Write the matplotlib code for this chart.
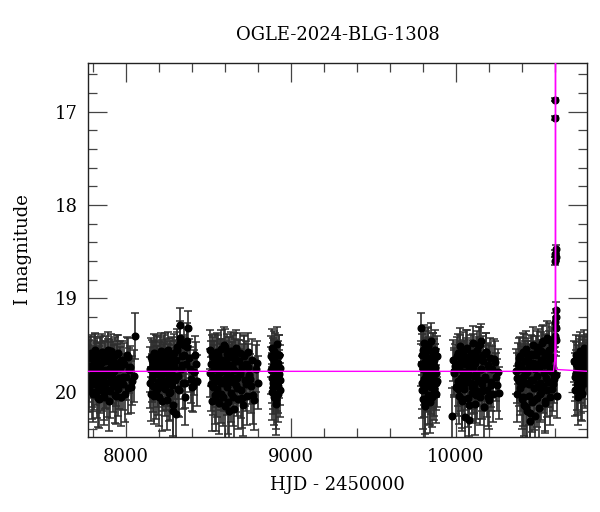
import numpy as np
import matplotlib
matplotlib.use('Agg')
import matplotlib.pyplot as plt
from matplotlib.ticker import MultipleLocator

# Temporada 1
t1 = [7776, 7779, 7783, 7786, 7790, 7794, 7797, 7801, 7805, 7808, 7812, 7816, 7820, 7823, 7827,
      7831, 7835, 7838, 7842, 7846, 7850, 7853, 7857, 7861, 7865, 7869, 7872, 7876, 7880, 7884,
      7888, 7892, 7895, 7899, 7903, 7907, 7911, 7915, 7919, 7923, 7927, 7931, 7935, 7940, 7944,
      7949, 7954, 7959, 7964, 7970, 7976, 7983, 7990, 7998, 8006, 8015, 8025, 8036, 8046, 8052,
      7777, 7785, 7792, 7800, 7806, 7814, 7822, 7829, 7836, 7844, 7851, 7859, 7867, 7874, 7882,
      7890, 7897, 7905, 7913, 7921, 7929, 7938, 7947, 7957, 7967, 7980, 7994, 8010, 8020, 8030]
m1 = [19.72, 19.95, 19.64, 19.83, 19.58, 19.90, 19.76, 20.02, 19.67, 19.81,
      19.55, 19.88, 19.70, 19.99, 19.62, 19.79, 20.08, 19.73, 19.60, 19.86,
      19.69, 19.93, 19.57, 19.84, 20.05, 19.66, 19.77, 19.91, 19.59, 19.82,
      19.98, 19.63, 19.75, 20.10, 19.68, 19.87, 19.56, 19.80, 19.94, 19.65,
      19.78, 20.03, 19.61, 19.89, 19.71, 19.97, 19.58, 19.85, 19.74, 20.06,
      19.66, 19.92, 19.70, 19.84, 19.60, 19.96, 19.73, 19.88, 19.83, 19.40,
      19.86, 19.61, 20.00, 19.74, 19.92, 19.57, 19.83, 20.07, 19.69, 19.95,
      19.60, 19.79, 20.01, 19.67, 19.90, 19.55, 19.81, 19.99, 19.64, 19.86,
      19.73, 20.04, 19.59, 19.91, 19.68, 19.84, 20.02, 19.63, 19.77, 19.95]
e1 = [0.22, 0.27, 0.20, 0.24, 0.19, 0.26, 0.23, 0.30, 0.21, 0.24,
      0.18, 0.26, 0.22, 0.29, 0.20, 0.23, 0.31, 0.22, 0.19, 0.25,
      0.21, 0.27, 0.19, 0.25, 0.30, 0.21, 0.23, 0.27, 0.19, 0.24,
      0.29, 0.20, 0.22, 0.32, 0.21, 0.26, 0.18, 0.24, 0.28, 0.20,
      0.23, 0.30, 0.20, 0.26, 0.22, 0.29, 0.19, 0.25, 0.22, 0.31,
      0.21, 0.27, 0.22, 0.25, 0.19, 0.28, 0.22, 0.26, 0.28, 0.25,
      0.25, 0.20, 0.29, 0.23, 0.27, 0.19, 0.25, 0.31, 0.22, 0.28,
      0.20, 0.24, 0.29, 0.21, 0.27, 0.19, 0.25, 0.29, 0.21, 0.26,
      0.23, 0.30, 0.20, 0.27, 0.22, 0.25, 0.30, 0.21, 0.24, 0.28]

# Temporada 2
t2 = [8146, 8150, 8154, 8158, 8162, 8166, 8170, 8174, 8178, 8182, 8186, 8190, 8194, 8198, 8202,
      8206, 8210, 8214, 8218, 8222, 8226, 8230, 8234, 8238, 8242, 8246, 8250, 8254, 8258, 8262,
      8266, 8270, 8274, 8278, 8282, 8286, 8290, 8294, 8298, 8302, 8306, 8310, 8315, 8320, 8325,
      8330, 8335, 8340, 8346, 8352, 8358, 8364, 8370, 8377, 8384, 8392, 8400, 8410, 8420, 8432,
      8148, 8156, 8164, 8172, 8180, 8188, 8196, 8204, 8212, 8220, 8228, 8236, 8244, 8252, 8260,
      8268, 8276, 8284, 8292, 8300, 8308, 8318, 8328, 8338, 8349, 8361, 8373, 8388, 8405, 8425]
m2 = [19.76, 20.02, 19.63, 19.85, 19.70, 19.94, 19.58, 19.81, 19.67, 19.99,
      19.74, 19.60, 19.89, 19.69, 20.06, 19.78, 19.56, 19.86, 19.65, 19.92,
      19.72, 19.59, 19.97, 19.80, 19.64, 19.88, 20.09, 19.71, 19.55, 19.84,
      19.68, 20.00, 19.77, 19.61, 19.93, 20.20, 19.73, 19.58, 19.87, 20.24,
      19.66, 19.52, 19.83, 19.98, 19.48, 19.28, 19.75, 19.62, 19.91, 19.50,
      20.05, 19.70, 19.45, 19.32, 19.64, 19.86, 19.95, 19.79, 19.60, 19.88,
      19.90, 19.66, 19.81, 20.04, 19.59, 19.75, 19.96, 19.62, 19.85, 20.10,
      19.70, 19.57, 19.92, 19.78, 20.01, 19.64, 19.88, 20.14, 19.68, 19.83,
      19.55, 19.97, 19.42, 19.71, 19.60, 19.90, 19.52, 19.76, 19.94, 19.70]
e2 = [0.24, 0.29, 0.21, 0.26, 0.23, 0.28, 0.20, 0.25, 0.22, 0.30,
      0.23, 0.20, 0.27, 0.22, 0.31, 0.24, 0.19, 0.26, 0.21, 0.28,
      0.23, 0.20, 0.29, 0.25, 0.21, 0.27, 0.32, 0.22, 0.19, 0.26,
      0.22, 0.30, 0.24, 0.20, 0.28, 0.30, 0.23, 0.20, 0.26, 0.28,
      0.22, 0.19, 0.25, 0.29, 0.19, 0.18, 0.24, 0.21, 0.27, 0.20,
      0.30, 0.23, 0.19, 0.19, 0.21, 0.26, 0.26, 0.24, 0.20, 0.27,
      0.27, 0.22, 0.25, 0.30, 0.20, 0.24, 0.29, 0.21, 0.26, 0.32,
      0.23, 0.20, 0.27, 0.24, 0.30, 0.22, 0.27, 0.33, 0.22, 0.25,
      0.19, 0.29, 0.18, 0.23, 0.21, 0.27, 0.19, 0.24, 0.28, 0.23]

# Temporada 3
t3 = [8510, 8514, 8518, 8522, 8526, 8530, 8534, 8538, 8542, 8546, 8550, 8554, 8558, 8562, 8566,
      8570, 8574, 8578, 8582, 8586, 8590, 8594, 8598, 8602, 8606, 8610, 8614, 8618, 8622, 8626,
      8630, 8634, 8638, 8642, 8646, 8650, 8654, 8658, 8662, 8666, 8670, 8674, 8679, 8684, 8689,
      8694, 8699, 8704, 8710, 8716, 8722, 8728, 8735, 8742, 8749, 8757, 8765, 8774, 8786, 8798,
      8512, 8520, 8528, 8536, 8544, 8552, 8560, 8568, 8576, 8584, 8592, 8600, 8608, 8616, 8624,
      8632, 8640, 8648, 8656, 8664, 8672, 8682, 8692, 8702, 8713, 8725, 8738, 8753, 8770, 8792]
m3 = [19.55, 19.92, 19.70, 20.10, 19.63, 19.84, 19.75, 20.03, 19.58, 19.88,
      19.68, 19.97, 19.61, 19.80, 20.12, 19.72, 19.54, 19.90, 19.66, 20.06,
      19.78, 19.50, 19.86, 20.15, 19.69, 19.59, 19.95, 19.74, 20.20, 19.63,
      19.83, 19.56, 20.01, 19.71, 19.89, 19.60, 20.18, 19.77, 19.65, 19.93,
      19.53, 19.85, 20.08, 19.67, 19.79, 19.58, 19.98, 19.73, 20.14, 19.62,
      19.87, 19.70, 20.04, 19.57, 19.82, 19.94, 19.66, 20.09, 19.75, 19.90,
      19.80, 19.60, 19.95, 19.70, 20.09, 19.57, 19.84, 19.66, 20.02, 19.74,
      19.91, 19.52, 19.79, 20.11, 19.63, 19.88, 19.71, 20.05, 19.58, 19.85,
      19.96, 19.67, 19.81, 20.07, 19.61, 19.92, 19.73, 19.86, 20.03, 19.69]
e3 = [0.21, 0.29, 0.24, 0.32, 0.22, 0.27, 0.25, 0.31, 0.20, 0.28,
      0.23, 0.30, 0.22, 0.26, 0.33, 0.24, 0.20, 0.29, 0.23, 0.31,
      0.25, 0.19, 0.27, 0.34, 0.23, 0.21, 0.30, 0.24, 0.35, 0.22,
      0.26, 0.20, 0.31, 0.24, 0.28, 0.21, 0.34, 0.25, 0.22, 0.29,
      0.19, 0.27, 0.32, 0.23, 0.25, 0.21, 0.30, 0.24, 0.33, 0.22,
      0.28, 0.24, 0.31, 0.20, 0.26, 0.29, 0.23, 0.32, 0.25, 0.28,
      0.26, 0.21, 0.30, 0.24, 0.33, 0.20, 0.27, 0.23, 0.31, 0.25,
      0.29, 0.19, 0.26, 0.34, 0.22, 0.28, 0.24, 0.32, 0.21, 0.27,
      0.30, 0.23, 0.26, 0.32, 0.22, 0.29, 0.24, 0.27, 0.31, 0.23]

# Temporada 4
t4 = [8880, 8883, 8886, 8889, 8892, 8895, 8898, 8901, 8904, 8907,
      8910, 8913, 8916, 8919, 8922, 8925, 8928, 8931, 8934, 8936,
      8881, 8885, 8890, 8894, 8900, 8906, 8912, 8918, 8924, 8930]
m4 = [19.62, 19.85, 19.53, 19.95, 19.72, 20.05, 19.66, 19.88, 19.58, 20.13,
      19.76, 19.49, 19.92, 19.69, 20.02, 19.81, 19.60, 19.98, 19.74, 19.87,
      19.77, 20.00, 19.64, 19.90, 19.56, 19.82, 20.08, 19.70, 19.94, 19.61]
e4 = [0.22, 0.27, 0.20, 0.29, 0.24, 0.31, 0.22, 0.27, 0.21, 0.33,
      0.25, 0.19, 0.28, 0.23, 0.30, 0.26, 0.21, 0.29, 0.24, 0.27,
      0.25, 0.30, 0.22, 0.28, 0.21, 0.26, 0.32, 0.23, 0.29, 0.22]

# Temporada 5
t5 = [9790, 9793, 9796, 9799, 9802, 9805, 9808, 9811, 9814, 9817, 9820, 9823, 9826, 9829, 9832,
      9835, 9838, 9841, 9844, 9847, 9850, 9853, 9856, 9859, 9862, 9865, 9868, 9871, 9874, 9877,
      9880, 9883, 9886,
      9791, 9795, 9801, 9806, 9812, 9818, 9824, 9830, 9836, 9842, 9848, 9854, 9860, 9866, 9872,
      9878]
m5 = [19.32, 19.90, 19.60, 20.08, 19.75, 19.48, 19.97, 19.68, 20.15, 19.82,
      19.56, 19.93, 19.71, 20.03, 19.52, 19.86, 19.64, 20.11, 19.78, 19.45,
      19.95, 19.70, 20.06, 19.59, 19.84, 19.66, 20.00, 19.74, 19.55, 19.91,
      19.80, 19.62, 19.88,
      19.70, 19.98, 19.55, 19.86, 20.12, 19.64, 19.92, 19.50, 19.79, 20.05,
      19.67, 19.89, 19.58, 19.96, 19.73, 20.02]
e5 = [0.17, 0.28, 0.22, 0.32, 0.25, 0.20, 0.30, 0.24, 0.34, 0.27,
      0.21, 0.29, 0.24, 0.31, 0.20, 0.28, 0.23, 0.33, 0.26, 0.19,
      0.29, 0.24, 0.32, 0.22, 0.27, 0.23, 0.30, 0.25, 0.21, 0.28,
      0.26, 0.22, 0.28,
      0.24, 0.30, 0.21, 0.28, 0.33, 0.22, 0.29, 0.20, 0.26, 0.31,
      0.23, 0.28, 0.21, 0.30, 0.24, 0.31]

# Temporada 6
t6 = [9978, 9984, 9988, 9994, 10000, 10005, 10010, 10014, 10018, 10022, 10026, 10030, 10034,
      10038, 10042, 10046, 10050, 10054, 10058, 10062, 10066, 10070, 10074, 10078, 10082, 10086,
      10090, 10094, 10098, 10102, 10106, 10110, 10114, 10118, 10122, 10126, 10130, 10134, 10138,
      10142, 10146, 10150, 10155, 10160, 10165, 10170, 10175, 10180, 10186, 10192, 10198, 10205,
      10212, 10220, 10228, 10238, 10248, 10260,
      9990, 10008, 10016, 10024, 10032, 10040, 10048, 10056, 10064, 10072, 10080, 10088, 10096,
      10104, 10112, 10120, 10128, 10136, 10144, 10152, 10158, 10167, 10177, 10183, 10195, 10202,
      10216, 10232, 10244, 10254]
m6 = [20.26, 19.66, 19.80, 19.72, 19.95, 19.62,
      19.88, 19.58, 20.04, 19.74, 19.51, 19.92, 19.68, 20.10, 19.79, 19.56,
      19.97, 19.70, 20.27, 19.63, 19.86, 19.53, 20.07, 19.76, 20.30, 19.66,
      19.90, 19.59, 20.01, 19.73, 19.48, 19.94, 19.69, 20.13, 19.81, 19.55,
      19.99, 19.65, 19.87, 19.50, 20.05, 19.75, 19.45, 19.92, 19.61, 20.16,
      19.84, 19.57, 19.98, 19.71, 20.09, 19.64, 19.89, 19.76, 20.02, 19.68,
      19.93, 20.01,
      19.78, 19.70, 19.97, 19.60, 19.85, 20.08, 19.66, 19.91, 19.54, 19.80,
      20.14, 19.72, 19.95, 19.58, 19.83, 20.03, 19.63, 19.88, 19.49, 19.76,
      19.99, 19.67, 19.86, 19.57, 20.06, 19.74, 19.93, 19.65, 19.84, 19.79]
e6 = [0.30, 0.22, 0.25, 0.23, 0.29, 0.21,
      0.27, 0.20, 0.30, 0.24, 0.19, 0.28, 0.23, 0.32, 0.25, 0.20,
      0.29, 0.23, 0.33, 0.21, 0.27, 0.19, 0.31, 0.24, 0.34, 0.22,
      0.28, 0.20, 0.30, 0.24, 0.19, 0.29, 0.23, 0.33, 0.25, 0.20,
      0.30, 0.22, 0.27, 0.19, 0.31, 0.24, 0.18, 0.28, 0.21, 0.33,
      0.26, 0.20, 0.29, 0.23, 0.31, 0.22, 0.27, 0.25, 0.30, 0.23,
      0.28, 0.28,
      0.25, 0.23, 0.29, 0.21, 0.27, 0.31, 0.22, 0.28, 0.20, 0.25,
      0.33, 0.23, 0.29, 0.20, 0.26, 0.30, 0.22, 0.27, 0.19, 0.24,
      0.30, 0.22, 0.27, 0.20, 0.31, 0.24, 0.28, 0.22, 0.26, 0.25]

# Temporada 7
t7 = [10364, 10372, 10378, 10384, 10390, 10394, 10398, 10402, 10406, 10410, 10414, 10418, 10422,
      10426, 10430, 10434, 10438, 10442, 10446, 10450, 10454, 10458, 10462, 10466, 10470, 10474,
      10478, 10482, 10486, 10490, 10494, 10498, 10502, 10506, 10510, 10514, 10518, 10522, 10526,
      10530, 10534, 10538, 10542, 10546, 10550, 10554, 10558, 10562, 10566, 10570, 10574, 10578,
      10582, 10586, 10590, 10594,
      10368, 10381, 10388, 10396, 10404, 10412, 10420, 10428, 10436, 10444, 10452, 10460, 10468,
      10476, 10484, 10492, 10500, 10508, 10516, 10524, 10532, 10540, 10548, 10556, 10564, 10572,
      10580, 10584, 10588, 10592]
m7 = [19.78, 20.02, 19.70, 19.88, 19.62,
      19.93, 19.75, 20.08, 19.57, 19.84, 20.14, 19.67, 19.91, 19.54, 20.20,
      19.79, 19.63, 20.04, 19.72, 20.31, 19.59, 19.87, 20.11, 19.69, 19.50,
      19.96, 20.26, 19.76, 19.61, 20.07, 19.83, 19.52, 20.17, 19.73, 19.90,
      19.56, 20.00, 19.66, 19.46, 19.94, 19.71, 20.12, 19.60, 19.85, 19.42,
      19.98, 19.68, 19.55, 19.89, 20.05, 19.64, 19.78, 19.50, 19.92, 19.74,
      19.82,
      19.85, 19.64, 19.96, 19.73, 20.06, 19.58, 19.82, 20.16, 19.68, 19.92,
      20.23, 19.61, 19.87, 20.09, 19.70, 19.55, 19.94, 20.02, 19.66, 19.48,
      19.80, 20.10, 19.58, 19.89, 19.44, 19.75, 19.97, 19.63, 19.52, 19.86]
e7 = [0.24, 0.30, 0.22, 0.27, 0.21,
      0.28, 0.24, 0.32, 0.20, 0.26, 0.33, 0.22, 0.28, 0.19, 0.34,
      0.25, 0.21, 0.31, 0.23, 0.35, 0.20, 0.27, 0.32, 0.23, 0.19,
      0.29, 0.34, 0.24, 0.21, 0.31, 0.26, 0.19, 0.33, 0.23, 0.28,
      0.20, 0.30, 0.22, 0.18, 0.29, 0.23, 0.32, 0.21, 0.26, 0.18,
      0.29, 0.22, 0.20, 0.27, 0.30, 0.22, 0.25, 0.19, 0.28, 0.24,
      0.26,
      0.27, 0.22, 0.29, 0.24, 0.31, 0.20, 0.26, 0.33, 0.23, 0.28,
      0.34, 0.21, 0.27, 0.32, 0.23, 0.20, 0.29, 0.30, 0.22, 0.19,
      0.26, 0.32, 0.20, 0.27, 0.18, 0.24, 0.29, 0.22, 0.19, 0.26]

# Evento de microlente
t_ev = [10602, 10602.6, 10603, 10603.3, 10603.6, 10603.9, 10604.2, 10604.5, 10605, 10605.5,
        10606, 10607, 10609, 10612]
m_ev = [19.40, 19.25, 18.60, 18.52, 16.87, 17.07, 18.47, 18.56, 19.12, 19.20,
        19.32, 19.44, 19.82, 20.04]
e_ev = [0.12, 0.10, 0.04, 0.04, 0.02, 0.02, 0.04, 0.04, 0.08, 0.09,
        0.10, 0.13, 0.20, 0.24]

# Temporada 8
t8 = [10718, 10722, 10726, 10730, 10734, 10738, 10742, 10746, 10750, 10754,
      10758, 10762, 10766, 10770, 10774, 10778, 10782, 10786, 10790, 10794,
      10720, 10728, 10736, 10744, 10752, 10760, 10768, 10776, 10784, 10792]
m8 = [19.67, 19.98, 19.80, 19.60, 19.92, 19.74, 20.05, 19.65, 19.86, 19.56,
      19.95, 19.71, 20.02, 19.62, 19.83, 19.53, 19.90, 19.69, 19.78, 19.58,
      19.84, 19.70, 19.96, 19.61, 19.79, 20.00, 19.66, 19.88, 19.59, 19.75]
e8 = [0.22, 0.28, 0.25, 0.21, 0.27, 0.24, 0.30, 0.22, 0.26, 0.20,
      0.28, 0.23, 0.29, 0.21, 0.25, 0.19, 0.27, 0.22, 0.24, 0.20,
      0.26, 0.23, 0.29, 0.21, 0.25, 0.30, 0.22, 0.27, 0.20, 0.24]

# Modelo (linea magenta)
model_t = [7770, 10592, 10600, 10602.5, 10603.5, 10604, 10604.5, 10605.5, 10608, 10800]
model_m = [19.78, 19.78, 19.65, 19.20, 17.80, 15.80, 17.80, 19.30, 19.76, 19.78]

titulo = 'OGLE-2024-BLG-1308'

t = np.concatenate([t1, t2, t3, t4, t5, t6, t7, t_ev, t8])
m = np.concatenate([m1, m2, m3, m4, m5, m6, m7, m_ev, m8])
e = np.concatenate([e1, e2, e3, e4, e5, e6, e7, e_ev, e8])

plt.rcParams['font.family'] = ['DejaVu Serif']

fig = plt.figure(figsize=(6.0, 5.12), dpi=100)
ax = fig.add_axes([88 / 600, 75.3 / 512, 499 / 600, 374 / 512])

puntos, tapas, barras = ax.errorbar(t, m, yerr=e, fmt='o', color='black', ms=4.8,
                                    ecolor='#2e2e2e', elinewidth=1.2, capsize=2.6,
                                    capthick=1.1, zorder=2)
for c in tapas:
    c.set_color('#000000')
ax.plot(model_t, model_m, color='#ff00ff', lw=1.0, zorder=5)

ax.set_xlim(7770, 10795)
ax.set_ylim(20.48, 16.475)

ax.xaxis.set_major_locator(MultipleLocator(1000))
ax.xaxis.set_minor_locator(MultipleLocator(200))
ax.yaxis.set_major_locator(MultipleLocator(1))
ax.yaxis.set_minor_locator(MultipleLocator(0.2))

ax.tick_params(which='both', direction='in', top=True, right=True,
               color='#444444', width=0.9, labelsize=13)
ax.tick_params(which='major', length=13.7)
ax.tick_params(which='minor', length=6.7)
ax.tick_params(axis='x', pad=8)
ax.tick_params(axis='y', pad=7.5)

for s in ax.spines.values():
    s.set_linewidth(1.0)
    s.set_color('#222222')

ax.set_xlabel('HJD - 2450000', fontsize=13, labelpad=7)
ax.set_ylabel('I magnitude', fontsize=13, labelpad=16)
ax.set_title(titulo, fontsize=13, pad=16)

plt.savefig('out.png', dpi=100)
plt.close()
